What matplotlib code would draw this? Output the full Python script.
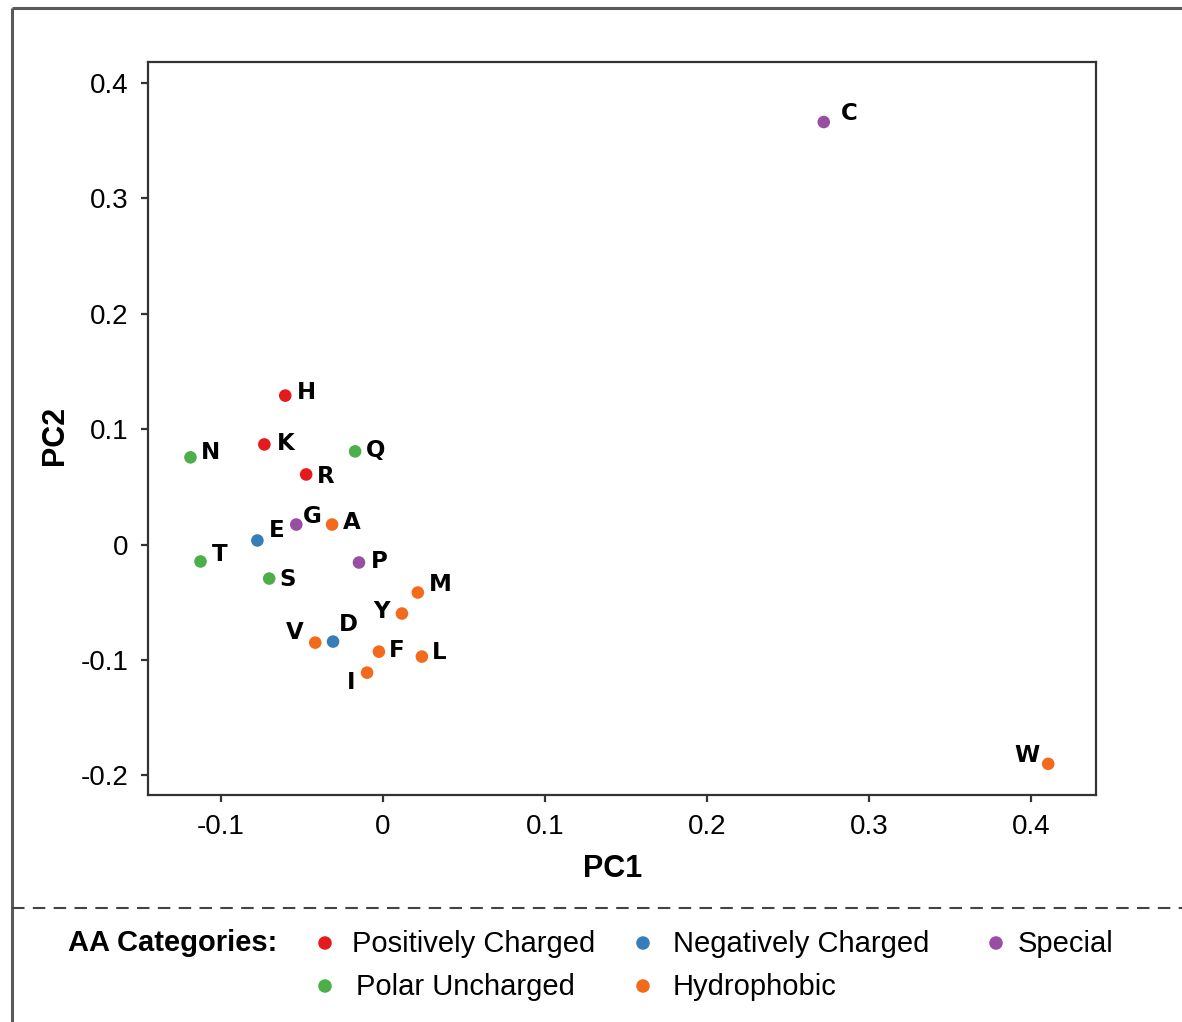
import matplotlib
matplotlib.use('Agg')
import matplotlib.pyplot as plt

# PCA coordinates of amino acids
aa_letters = ['C', 'W', 'H', 'K', 'N', 'Q', 'R', 'G', 'A', 'E',
              'T', 'P', 'S', 'M', 'Y', 'V', 'D', 'F', 'L', 'I']
pc1 = [0.272, 0.4105, -0.0603, -0.0732, -0.1188, -0.0172, -0.0474, -0.0535, -0.0314, -0.0775,
       -0.1126, -0.0148, -0.0702, 0.0215, 0.0117, -0.0418, -0.0308, -0.0025, 0.024, -0.0098]
pc2 = [0.366, -0.190, 0.129, 0.0867, 0.0755, 0.0807, 0.0607, 0.0173, 0.0173, 0.0035,
       -0.0147, -0.0156, -0.0295, -0.0416, -0.0598, -0.085, -0.0841, -0.0928, -0.0971, -0.111]
aa_category = ['Special', 'Hydrophobic', 'Positively Charged', 'Positively Charged', 'Polar Uncharged',
               'Polar Uncharged', 'Positively Charged', 'Special', 'Hydrophobic', 'Negatively Charged',
               'Polar Uncharged', 'Special', 'Polar Uncharged', 'Hydrophobic', 'Hydrophobic',
               'Hydrophobic', 'Negatively Charged', 'Hydrophobic', 'Hydrophobic', 'Hydrophobic']

categories = ['Positively Charged', 'Polar Uncharged', 'Negatively Charged', 'Hydrophobic', 'Special']
cat_colors = {
    'Positively Charged': '#e41a1c',
    'Negatively Charged': '#377eb8',
    'Polar Uncharged': '#4daf4a',
    'Hydrophobic': '#f26b1d',
    'Special': '#984ea3',
}

xticks = [-0.1, 0, 0.1, 0.2, 0.3, 0.4]
xtick_labels = ['-0.1', '0', '0.1', '0.2', '0.3', '0.4']
yticks = [-0.2, -0.1, 0, 0.1, 0.2, 0.3, 0.4]
ytick_labels = ['-0.2', '-0.1', '0', '0.1', '0.2', '0.3', '0.4']

# label offsets (pixels, dx right, dy up) so the letters sit like the original
label_offsets = {
    'C': (25, 9), 'W': (-21, 8), 'H': (21, 3), 'K': (21, 1), 'N': (20, 5),
    'Q': (20, 1), 'R': (20, -2), 'G': (16, 8), 'A': (20, 2), 'E': (19, 10),
    'T': (19, 7), 'P': (20, 1), 'S': (18, -1), 'M': (22, 8), 'Y': (-20, 2),
    'V': (-20, 10), 'D': (15, 17), 'F': (18, 1), 'L': (17, 4), 'I': (-16, -10),
}

W, H = 1182, 1022
fig = plt.figure(figsize=(W / 100, H / 100), dpi=100)

# background overlay in pixel coords for the frame, divider and legend
bg = fig.add_axes([0, 0, 1, 1])
bg.set_xlim(0, W)
bg.set_ylim(H, 0)
bg.axis('off')
frame_col = '#5a5a5a'
bg.plot([11.5, 11.5], [8.5, H + 5], color=frame_col, lw=2.2, solid_capstyle='butt')
bg.plot([11.5, W + 5], [8.5, 8.5], color=frame_col, lw=2.2, solid_capstyle='butt')
bg.plot([11.5, W], [908, 908], color='#444444', lw=1.5, linestyle=(0, (6, 4)))

ax = fig.add_axes([148 / W, 1 - 795 / H, (1096 - 148) / W, (795 - 62) / H])
for cat in categories:
    xs = [x for x, c in zip(pc1, aa_category) if c == cat]
    ys = [y for y, c in zip(pc2, aa_category) if c == cat]
    ax.scatter(xs, ys, s=82, color=cat_colors[cat], edgecolors='none', zorder=3)

px2pt = 72 / 100
for lab, x, y in zip(aa_letters, pc1, pc2):
    dx, dy = label_offsets[lab]
    ax.annotate(lab, (x, y), xytext=(dx * px2pt, dy * px2pt), textcoords='offset points',
                ha='center', va='center', fontsize=16.5, fontweight='bold',
                family='DejaVu Sans', color='black', zorder=4)

ax.set_xlim(-0.145, 0.44)
ax.set_ylim(-0.217, 0.418)
ax.set_xticks(xticks)
ax.set_xticklabels(xtick_labels)
ax.set_yticks(yticks)
ax.set_yticklabels(ytick_labels)
ax.tick_params(labelsize=20, length=5, width=1.6, color='#333333', pad=9)
for lbl in ax.get_xticklabels() + ax.get_yticklabels():
    lbl.set_family('Liberation Sans')
for sp in ax.spines.values():
    sp.set_color('#333333')
    sp.set_linewidth(1.6)
ax.set_xlabel('PC1', fontsize=22, fontweight='bold', family='Liberation Sans')
ax.set_ylabel('PC2', fontsize=22, fontweight='bold', family='Liberation Sans')
ax.xaxis.set_label_coords(0.49, -0.08)
ax.yaxis.set_label_coords(-0.082, 0.49)

# legend laid out like the original (manual placement)
bg.text(68, 943, 'AA Categories:', fontsize=21, fontweight='bold', family='Liberation Sans',
        ha='left', va='center')
leg_marker_x = [325, 325, 643, 643, 996]
leg_text_x = [352, 356, 673, 673, 1018]
leg_y = [943, 986, 943, 986, 943]
for cat, mx, tx, ly in zip(categories, leg_marker_x, leg_text_x, leg_y):
    bg.scatter([mx], [ly], s=95, color=cat_colors[cat], edgecolors='none')
    bg.text(tx, ly + 1, cat, fontsize=21, family='Liberation Sans', ha='left', va='center')

fig.savefig('out.png', dpi=100)
